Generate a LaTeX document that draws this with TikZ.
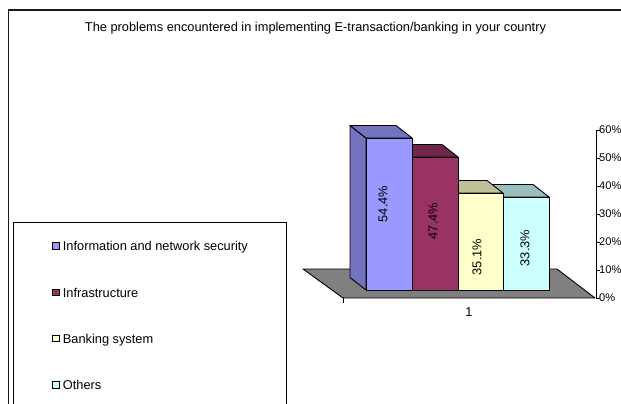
\documentclass[tikz,border=0pt]{standalone}
\usepackage{fontspec}
\setmainfont{Liberation Sans}
\definecolor{seriesA}{HTML}{9999FF}
\definecolor{seriesAdark}{HTML}{7373BF}
\definecolor{seriesB}{HTML}{993366}
\definecolor{seriesBdark}{HTML}{73264C}
\definecolor{seriesC}{HTML}{FFFFCC}
\definecolor{seriesCdark}{HTML}{BFBF99}
\definecolor{seriesD}{HTML}{CCFFFF}
\definecolor{seriesDdark}{HTML}{99BFBF}
\definecolor{floorgrey}{HTML}{808080}

% One 3-D column: #1 left x, #2 right x, #3 top y of the front face,
% #4 front colour, #5 colour of the top and side faces
\newcommand\chartcolumn[5]{%
  \filldraw[face,fill=#5] (#1,290) -- (#1,#3) -- ++(-16,-12.5) -- (#1-16,277.5) -- cycle;
  \filldraw[face,fill=#5] (#1,#3) -- ++(-16,-12.5) -- ++(#2-#1,0) -- (#2,#3) -- cycle;
  \filldraw[face,fill=#4] (#1,#3) rectangle (#2,290);
}

\begin{document}
\begin{tikzpicture}[x=1bp,y=-1bp,
  font=\fontsize{12.8bp}{15bp}\selectfont,
  face/.style={draw=black,line width=0.9bp,line join=round},
  txt/.style={inner sep=0pt},
  tick/.style={draw=black,line width=0.9bp},
  legmark/.style={draw=black,line width=0.9bp}]
\useasboundingbox (0,0) rectangle (621,403);
\clip (0,0) rectangle (621,403);

% chart area frame
\draw[line width=1.4bp,black!90] (8.7,410) -- (8.7,10) -- (630,10);

% title
\node[txt,anchor=base] (title) at (315.5,31)
  {The problems encountered in implementing E-transaction/banking in your country};

% floor of the plot
\filldraw[face,fill=floorgrey] (303,269) -- (557,269) -- (595,298) -- (343,298) -- cycle;
\draw[tick] (343,298) -- (343,303);

% value axis
\draw[tick] (596,130) -- (596,298);
\foreach \v [count=\i from 0] in {0,10,20,30,40,50,60} {
  \draw[tick] (596,298-28*\i) -- (599.5,298-28*\i);
  \node[txt,anchor=west,font=\fontsize{11.1bp}{13bp}\selectfont] (ax\v) at (599,298-28*\i) {\v\%};
}

% columns, right to left
\chartcolumn{503}{549}{197}{seriesD}{seriesDdark}
\chartcolumn{458}{503}{193}{seriesC}{seriesCdark}
\chartcolumn{412}{458}{157}{seriesB}{seriesBdark}
\chartcolumn{366}{412}{138}{seriesA}{seriesAdark}

% data labels
\node[txt,rotate=90] (vA) at (383,204) {54.4\%};
\node[txt,rotate=90] (vB) at (433,221) {47.4\%};
\node[txt,rotate=90] (vC) at (477,257) {35.1\%};
\node[txt,rotate=90] (vD) at (525,248) {33.3\%};

% category label
\node[txt,anchor=base] (cat) at (469,316) {1};

% legend
\draw[line width=0.9bp] (13,410) -- (13,222) -- (286,222) -- (286,410);
\foreach \name/\col [count=\i from 0] in
  {Information and network security/seriesA, Infrastructure/seriesB,
   Banking system/seriesC, Others/seriesD} {
  \filldraw[legmark,fill=\col] (52.7,250.7+46.3*\i-8) rectangle (59.3,250.7+46.3*\i-1.4);
  \node[txt,anchor=base west] (leg\i) at (62.7,250.7+46.3*\i) {\name};
}
\end{tikzpicture}
\end{document}
